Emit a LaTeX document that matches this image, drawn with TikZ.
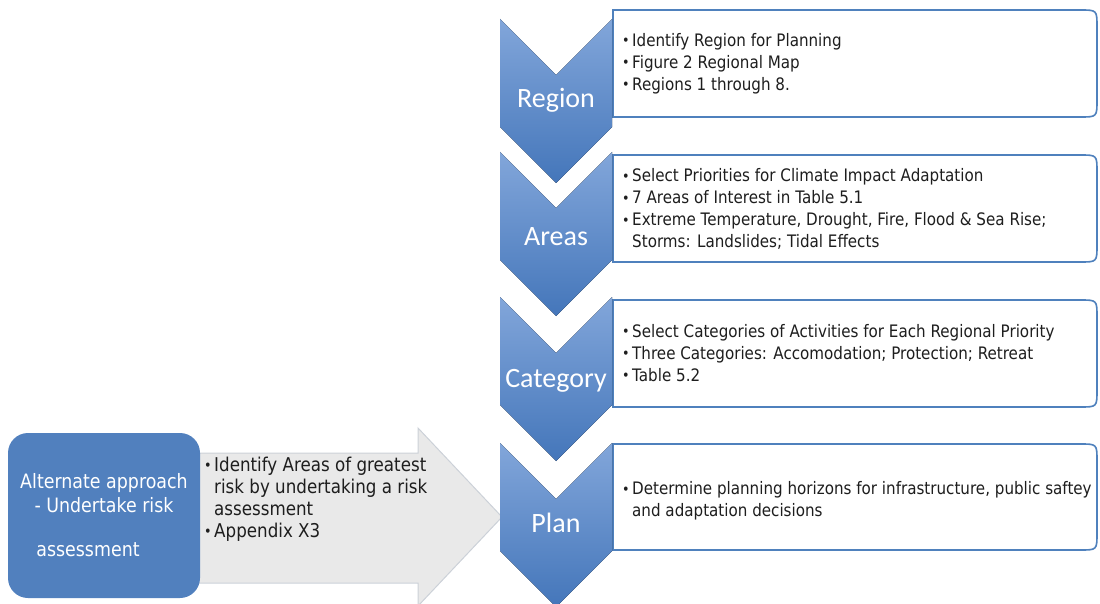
\documentclass[tikz,border=0pt]{standalone}
\usepackage{fontspec}
\setmainfont[FakeStretch=0.88]{DejaVu Sans}
\newfontfamily\titlefont{Carlito}
\definecolor{chevtop}{RGB}{130,166,218}
\definecolor{chevbot}{RGB}{68,118,186}
\definecolor{boxline}{RGB}{79,129,189}
\definecolor{altfill}{RGB}{81,128,190}
\definecolor{arrowfill}{RGB}{233,233,233}
\definecolor{arrowline}{RGB}{204,209,216}
\definecolor{bodytext}{RGB}{30,30,30}
\newcommand{\bullitem}{\llap{\raisebox{0.5pt}{\fontsize{14.5}{14.5}\selectfont\textbullet}\hspace{2.5pt}}}
\begin{document}
\begin{tikzpicture}
		[x=1pt,y=-1pt,
		chevron/.style={top color=chevtop,bottom color=chevbot,draw=none},
		listbox/.style={draw=boxline,line width=1.6pt,fill=white},
		title/.style={font=\titlefont\fontsize{28}{30}\selectfont,text=white,inner sep=0pt},
		items/.style={font=\fontsize{17.2}{22}\selectfont,text=bodytext,
			align=left,anchor=west,inner sep=0pt},
		altbox/.style={fill=altfill,rounded corners=20pt,minimum width=192pt,
			minimum height=165pt,text=white,align=center,
			font=\fontsize{19.8}{24}\selectfont}
		]
		\useasboundingbox (0,0) rectangle (1100,604);
		% side arrow
		\draw[fill=arrowfill,draw=arrowline,line width=1pt]
			(190,453) -- (418,453) -- (418,428) -- (502,517) -- (418,606)
			-- (418,583) -- (190,583) -- cycle;
		\node[altbox] (alt) at (104,515.5) {Alternate approach\\
			- Undertake risk\\[20pt]\hspace*{-32pt}assessment};
		\node[items,font=\fontsize{19}{22}\selectfont] (alttext) at (214,499)
			{\bullitem Identify Areas of greatest\\
			risk by undertaking a risk\\
			assessment\\
			\bullitem Appendix X3};
		% list boxes
		\draw[listbox] (613,10) -- (1080,10) .. controls (1097,10) .. (1097,27)
			-- (1097,100) .. controls (1097,117) .. (1080,117) -- (613,117) -- cycle;
		\draw[listbox] (613,155) -- (1080,155) .. controls (1097,155) .. (1097,172)
			-- (1097,245) .. controls (1097,262) .. (1080,262) -- (613,262) -- cycle;
		\draw[listbox] (613,300) -- (1080,300) .. controls (1097,300) .. (1097,317)
			-- (1097,390) .. controls (1097,407) .. (1080,407) -- (613,407) -- cycle;
		\draw[listbox] (613,444) -- (1080,444) .. controls (1097,444) .. (1097,461)
			-- (1097,533) .. controls (1097,550) .. (1080,550) -- (613,550) -- cycle;
		% chevrons
		\fill[chevron] (500,19) -- (556,75) -- (612,19) -- (612,127) -- (556,183)
			-- (500,127) -- cycle;
		\fill[chevron] (500,152) -- (556,208) -- (612,152) -- (612,260) -- (556,316)
			-- (500,260) -- cycle;
		\fill[chevron] (500,297) -- (556,353) -- (612,297) -- (612,405) -- (556,461)
			-- (500,405) -- cycle;
		\fill[chevron] (500,443) -- (556,499) -- (612,443) -- (612,551) -- (556,607)
			-- (500,551) -- cycle;
		\node[title] (region) at (556,100) {Region};
		\node[title] (areas) at (556,237) {Areas};
		\node[title] (category) at (556,381) {Category};
		\node[title] (plan) at (556,523) {Plan};
		% texts
		\node[items] (regiontext) at (632,63.5)
			{\bullitem Identify Region for Planning\\
			\bullitem Figure 2 Regional Map\\
			\bullitem Regions 1 through 8.};
		\node[items] (areastext) at (632,209)
			{\bullitem Select Priorities for Climate Impact Adaptation\\
			\bullitem 7 Areas of Interest in Table 5.1\\
			\bullitem Extreme Temperature, Drought, Fire, Flood \& Sea Rise;\\
			Storms: Landslides; Tidal Effects};
		\node[items] (categorytext) at (632,353)
			{\bullitem Select Categories of Activities for Each Regional Priority\\
			\bullitem Three Categories: Accomodation; Protection; Retreat\\
			\bullitem Table 5.2};
		\node[items] (plantext) at (632,501)
			{\bullitem Determine planning horizons for infrastructure, public saftey\\
			and adaptation decisions};
	\end{tikzpicture}
\end{document}
